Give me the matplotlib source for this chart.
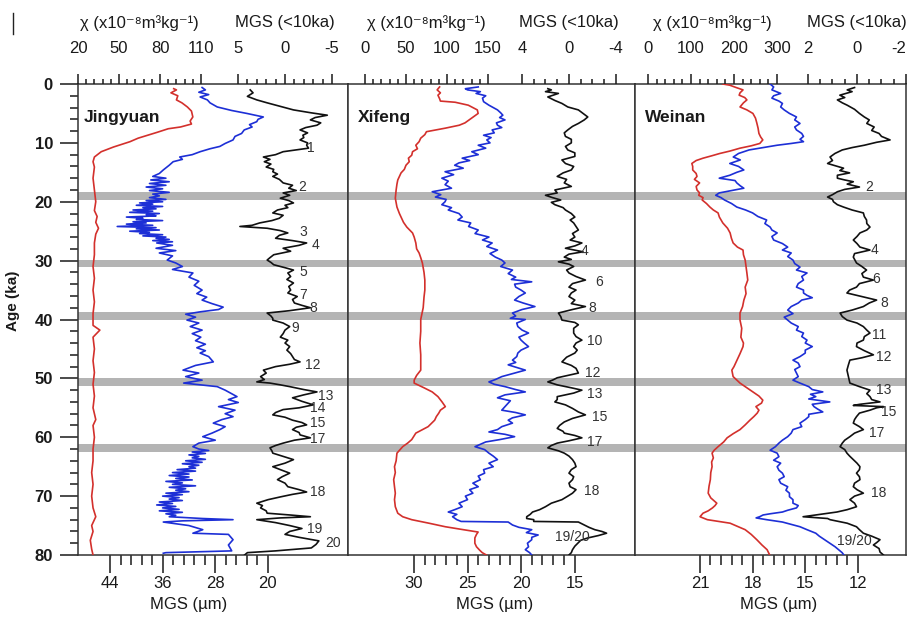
import matplotlib
matplotlib.use('Agg')
import matplotlib.pyplot as plt
from matplotlib.ticker import FixedLocator, MultipleLocator
from matplotlib.lines import Line2D

plt.rcParams['font.family'] = ['Liberation Sans', 'DejaVu Sans']
plt.rcParams['axes.unicode_minus'] = False

# ---- data (age in ka) ----
# Jingyuan
jy_chi_age = [0.8, 1.0, 1.5, 2.0, 2.7, 3.2, 3.9, 4.6, 5.6, 6.3, 6.8, 7.3, 7.6, 8.2, 9.2, 9.8, 10.7, 11.5, 12.4, 13.2,
              14.1, 16, 18, 20, 21.5, 22.5, 23.5, 24.5, 25.5, 27, 29, 31, 33, 35, 37, 39, 41, 41.8, 43, 45, 47, 49,
              51, 53, 55, 57, 58, 60, 62, 64, 66, 68, 70, 72, 73.5, 75, 76, 77.5, 79, 80]
jy_chi = [90, 92, 88, 93, 92, 96, 100, 103, 104, 102, 103, 95, 86, 78, 64, 58, 46, 37, 32, 31,
          32, 31, 32, 33, 32, 34, 33, 35, 33, 32, 32, 31, 32, 31, 32, 31, 31, 36, 31, 32, 31, 32,
          31, 32, 31, 33, 31, 32, 31, 31, 30, 31, 30, 31, 33, 30, 31, 29, 30, 31]

jy_mgs_age = [0.6, 1.0, 1.4, 1.8, 2.2, 2.7, 3.2, 3.9, 4.5, 5.0, 5.6, 6.0, 6.4, 6.9, 7.3, 7.8, 8.4, 8.9, 9.5, 10.1,
              10.6, 11.0, 11.5, 12.0, 12.4, 12.8, 13.2, 13.8, 14.6, 15.2, 15.7, 16.0, 16.3, 16.6, 16.9, 17.2, 17.5,
              17.8, 18.1, 18.4, 18.7, 19.0, 19.3, 19.6, 19.8, 20.0, 20.2, 20.4, 20.6, 20.8, 21.0, 21.2, 21.4, 21.6,
              21.8, 22.0, 22.2, 22.4, 22.6, 22.8, 23.0, 23.2, 23.4, 23.6, 23.8, 24.0, 24.2, 24.4, 24.6, 24.8, 25.0,
              25.2, 25.4, 25.6, 25.8, 26.0, 26.2, 26.4, 26.6, 26.8, 27.0, 27.4, 27.9, 28.3, 28.7, 29.2, 29.9, 30.4,
              31.0, 31.5, 32.1, 32.8, 33.5, 34.2, 35.0, 35.6, 36.2, 36.7, 37.3, 37.9, 38.3, 38.7, 39.1, 39.6, 40.1,
              40.6, 41.2, 41.8, 42.4, 43.0, 43.6, 44.2, 44.8, 45.3, 45.7, 46.3, 47.2, 47.8, 48.6, 49.1, 49.7, 50.3,
              50.8, 51.4, 52.0, 52.6, 53.1, 53.6, 54.1, 54.8, 55.4, 56.0, 56.5, 57.0, 57.6, 58.2, 58.7, 59.3, 59.9,
              60.5, 61.0, 61.6, 62.0, 62.25, 62.5, 62.75, 63.0, 63.25, 63.5, 63.75, 64.0, 64.25, 64.5, 64.75, 65.0,
              65.25, 65.5, 65.75, 66.0, 66.25, 66.5, 66.75, 67.0, 67.25, 67.5, 67.75, 68.0, 68.25, 68.5, 68.75,
              69.0, 69.25, 69.5, 69.75, 70.0, 70.25, 70.5, 70.75, 71.0, 71.25, 71.5, 71.75, 72.0, 72.25, 72.5,
              72.75, 73.0, 73.25, 73.5, 73.8, 74.0, 74.2, 74.4, 75.0, 75.7, 76.3, 76.5, 77.4, 78.3, 79.3, 79.6,
              79.7]
jy_mgs = [30.0, 29.5, 30.5, 29.0, 30.3, 29.2, 28.8, 27.7, 25.5, 23.2, 20.7, 21.5, 21.7, 22.8, 22.4, 23.6, 24.0, 25.0,
          25.3, 26.5, 27.3, 28.8, 30.3, 31.5, 33.4, 33.0, 34.4, 35.0, 35.9, 36.5, 37.5, 35.5, 37.8, 35.0, 38.0, 35.5,
          38.5, 36.0, 38.0, 35.0, 37.5, 36.5, 38.0, 35.5, 38.5, 36.0, 39.5, 37.5, 40.0, 36.0, 39.0, 37.0, 40.5, 37.5,
          41.0, 36.5, 38.5, 37.0, 41.5, 39.0, 40.0, 36.0, 40.5, 38.5, 41.5, 37.5, 42.9, 37.0, 40.0, 36.5, 41.0, 38.0,
          39.5, 36.0, 39.0, 35.5, 37.0, 35.0, 37.5, 34.5, 36.9, 34.5, 37.0, 34.0, 36.5, 34.5, 35.3, 34.0, 33.0, 34.5,
          31.4, 32.0, 30.5, 31.2, 30.0, 30.8, 29.3, 30.0, 28.5, 26.8, 27.5, 30.3, 32.5, 31.0, 32.3, 30.5, 31.8, 30.0,
          31.5, 30.2, 31.0, 29.5, 30.8, 29.5, 30.3, 29.0, 28.3, 31.0, 32.9, 30.5, 32.5, 30.0, 32.8, 27.7, 26.5, 25.5,
          24.7, 26.0, 24.5, 27.5, 25.0, 26.5, 25.3, 27.0, 28.3, 26.5, 27.3, 28.5, 29.9, 28.0, 30.5, 31.4, 30.5, 29.0,
          31.5, 29.5, 32.0, 30.5, 31.5, 29.5, 32.5, 30.0, 33.0, 30.5, 32.0, 31.0, 33.8, 31.0, 34.5, 32.0, 35.0, 32.0,
          34.0, 31.5, 35.5, 33.0, 34.5, 31.0, 35.0, 32.5, 34.0, 32.0, 35.5, 33.0, 36.0, 33.5, 35.0, 33.0, 36.5, 34.5,
          36.9, 34.0, 36.0, 33.5, 36.5, 33.0, 35.5, 34.0, 35.0, 30.0, 25.3, 33.0, 35.9, 32.0, 29.9, 31.4, 26.0, 25.3,
          26.0, 25.5, 35.5, 35.9]

jy_m10_age = [1.0, 1.5, 2.1, 2.7, 3.2, 3.8, 4.4, 4.9, 5.3, 5.7, 6.1, 6.6, 7.0, 7.4, 7.8, 8.3, 8.7, 9.1, 9.5, 10.0,
              10.4, 10.9, 11.5, 12.0, 12.4, 12.8, 13.2, 13.6, 14.1, 14.5, 14.9, 15.3, 15.7, 16.2, 16.8, 17.2, 17.7,
              18.1, 18.5, 18.9, 19.4, 19.8, 20.2, 20.6, 21.0, 21.4, 21.9, 22.3, 22.8, 23.2, 23.6, 24.0, 24.2, 24.5,
              24.9, 25.3, 25.7, 26.2, 26.6, 27.0, 27.4, 27.9, 28.4, 29.0, 29.5, 29.9, 30.3, 30.7, 31.2, 31.6, 32.1,
              32.7, 33.2, 33.8, 34.4, 35.0, 35.5, 36.1, 36.6, 37.2, 37.6, 38.0, 38.5, 38.9, 39.4, 39.8, 40.1, 40.6,
              41.2, 41.8, 42.4, 43.0, 43.5, 44.0, 44.6, 45.2, 45.8, 46.3, 46.8, 47.2, 47.6, 48.0, 48.6, 49.1, 49.7,
              50.2, 50.6, 50.8, 51.1, 51.4, 51.9, 52.3, 52.8, 53.3, 53.9, 54.5, 55.0, 55.3, 55.8, 56.2, 56.6, 57.1,
              57.5, 57.9, 58.3, 58.7, 59.2, 59.6, 60.1, 60.5, 61.0, 61.4, 61.8, 62.3, 62.7, 63.2, 63.8, 64.4, 65.0,
              65.5, 66.1, 66.7, 67.2, 67.8, 68.4, 68.9, 69.3, 69.7, 70.1, 70.6, 71.2, 71.6, 72.0, 72.5, 72.9, 73.2,
              73.5, 73.7, 74.0, 74.5, 75.0, 75.5, 76.0, 76.5, 77.0, 77.6, 78.2, 78.8, 79.3, 79.6, 80.0]
jy_m10 = [3.7, 3.4, 4.0, 3.0, 1.9, 0.5, -0.9, -2.8, -4.5, -3.2, -2.7, -3.8, -3.4, -2.2, -1.6, -2.4, -1.9, -2.0, -1.6,
          -2.4, -2.3, -2.5, 0.2, 1.0, 2.3, 1.6, 2.2, 1.5, 2.0, 1.2, 1.3, 0.8, 1.3, 0.6, 0.2, -0.8, -0.4, -1.2, 0.2,
          -0.5, 0.5, -0.4, -0.9, 0.0, -0.3, 0.8, 1.3, 0.2, 0.6, 1.4, 2.7, 3.5, 4.8, 1.9, 0.5, -0.3, 0.6, 1.0, -0.8,
          -2.3, -1.5, 0.2, -0.6, 1.2, 1.6, 1.9, 1.5, 1.2, 0.0, -0.9, -0.3, -0.6, -0.2, -0.9, -0.4, -0.6, -0.3, -1.3,
          -0.8, -1.0, -1.8, -2.7, -0.5, 1.9, 1.5, 1.3, 1.3, 0.2, -0.5, 0.0, 0.2, 0.5, -0.3, 0.0, -0.5, -0.2, -0.6,
          -0.8, -1.0, -1.6, -0.5, 1.0, 2.3, 2.0, 2.6, 2.2, 3.0, 1.6, 0.5, -0.5, -2.0, -3.4, -2.0, -0.8, -1.8, -3.0,
          -1.5, 0.2, 1.0, 1.3, 0.0, -0.8, -1.8, -2.3, -1.2, -0.8, -1.5, -1.6, -2.7, -1.0, 0.2, 1.0, 1.6, 1.4, 1.3,
          0.3, -0.9, 0.0, 1.3, 0.5, -0.5, 0.3, 0.8, 0.0, -0.3, -1.5, -2.3, -0.8, 0.4, 1.8, 3.0, 2.4, 2.6, 2.0, 1.9,
          -0.5, -2.7, 0.5, 3.0, 1.0, -0.5, -1.8, -0.5, 0.0, -1.5, -3.6, -3.3, -2.8, 1.0, 4.0, 4.3]

# Xifeng
xf_chi_age = [0.5, 1.0, 1.5, 1.9, 2.5, 2.9, 3.1, 3.6, 4.4, 5.0, 5.5, 5.8, 6.6, 7.0, 7.5, 8.1, 8.6, 9.2, 9.8, 10.4,
              11.0, 11.5, 12.1, 12.6, 13.2, 13.8, 14.5, 15.1, 15.7, 16.3, 17, 18, 19.4, 20.9, 22, 22.6, 23.5, 24.3,
              25.3, 26, 27, 28, 28.7, 29.5, 30.4, 32, 33.3, 35, 36.2, 38, 40, 42, 44, 46, 48.6, 49.5, 50.3, 50.8,
              51.6, 52.3, 53.1, 54, 54.8, 55.4, 55.9, 56.5, 57.1, 58.2, 59.3, 60.4, 61, 61.6, 62.7, 64, 65, 66, 67.2,
              68.4, 69.5, 70.6, 71.8, 72.9, 73.5, 74, 74.6, 75.2, 75.7, 76.1, 76.5, 77.1, 78, 78.6, 79.2, 79.6, 80]
xf_chi = [91, 88, 92, 89, 91, 92, 110, 126, 137, 138, 133, 130, 122, 115, 98, 75, 73, 68, 66, 62,
          64, 58, 57, 53, 54, 50, 48, 44, 42, 40, 39, 38, 37, 39, 42, 44, 47, 51,
          58, 60, 62, 63, 66, 68, 70, 72, 73, 73, 72, 71, 68, 68, 67, 68, 68, 63, 60, 60,
          72, 82, 89, 94, 98, 92, 90, 87, 85, 77, 62, 57, 52, 46, 39, 38, 36, 37, 35,
          36, 37, 36, 37, 40, 46, 57, 78, 98, 120, 138, 136, 134, 134, 136, 140, 143, 148]

xf_mgs_age = [0.5, 0.8, 1.0, 1.3, 1.6, 2.0, 2.4, 3.0, 3.6, 4.0, 4.4, 4.9, 5.3, 5.7, 6.1, 6.6, 7.0, 7.4, 7.8, 8.3,
              8.7, 9.1, 9.5, 10.0, 10.4, 10.9, 11.5, 12.0, 12.6, 13.0, 13.4, 13.8, 14.3, 14.9, 15.4, 16.0, 16.5,
              17.1, 17.7, 18.3, 18.8, 19.2, 19.6, 20.0, 20.5, 21.0, 21.4, 22.0, 22.6, 23.1, 23.6, 24.2, 24.8, 25.4,
              26.0, 26.5, 27.0, 27.6, 28.2, 28.8, 29.4, 29.9, 30.4, 31.0, 31.6, 32.2, 32.8, 33.2, 33.6, 34.0, 34.5,
              35.0, 35.5, 36.1, 36.7, 37.2, 37.8, 38.3, 38.9, 39.4, 39.8, 40.0, 40.6, 41.2, 41.8, 42.3, 43.0, 43.5,
              44.0, 44.6, 45.2, 45.7, 46.3, 46.9, 47.3, 47.7, 48.2, 48.6, 49.2, 49.7, 50.2, 50.6, 51.0, 51.4, 51.9,
              52.3, 52.8, 53.3, 53.8, 54.2, 54.8, 55.4, 55.8, 56.2, 56.7, 57.1, 57.6, 58.2, 58.7, 59.1, 59.5, 59.9,
              60.4, 60.8, 61.2, 61.6, 62.1, 62.7, 63.2, 63.8, 64.4, 65.0, 65.5, 66.1, 66.6, 67.2, 67.8, 68.4, 68.9,
              69.5, 70.0, 70.6, 71.2, 71.8, 72.3, 72.7, 73.1, 73.5, 74.0, 74.3, 74.4, 74.9, 75.3, 75.7, 76.2, 76.6,
              77.0, 77.4, 78.0, 78.6, 79.1, 79.6, 80.0]
xf_mgs = [24.0, 25.2, 25.0, 23.8, 24.2, 23.3, 23.6, 23.5, 23.0, 22.6, 22.2, 21.9, 21.7, 22.0, 21.5, 22.3, 22.2, 21.8,
          22.7, 22.5, 23.5, 22.8, 23.2, 22.9, 24.0, 23.3, 24.6, 24.0, 25.5, 24.8, 25.8, 26.2, 25.4, 27.1, 26.3, 27.4,
          26.8, 27.1, 26.5, 28.3, 27.5, 28.0, 27.0, 27.1, 27.4, 26.5, 26.8, 25.8, 25.5, 25.9, 24.7, 24.9, 24.0, 24.3,
          23.0, 23.6, 22.7, 23.2, 22.2, 22.9, 22.4, 21.8, 21.5, 21.9, 20.8, 21.2, 20.5, 20.9, 19.0, 20.6, 20.5, 20.0,
          19.6, 20.2, 20.6, 19.8, 18.7, 19.9, 20.8, 20.5, 21.0, 19.6, 20.4, 20.3, 19.9, 19.3, 20.2, 20.0, 19.7, 19.3,
          20.0, 20.3, 20.4, 20.8, 20.5, 21.2, 20.3, 19.6, 20.8, 21.8, 22.4, 23.0, 22.5, 21.5, 20.5, 19.6, 21.5, 22.2,
          21.0, 21.2, 21.5, 21.8, 20.5, 19.6, 20.8, 21.2, 20.8, 21.8, 22.2, 23.0, 21.5, 20.6, 22.0, 23.3, 23.8, 24.3,
          23.4, 23.0, 22.6, 22.2, 23.0, 22.6, 23.5, 23.4, 24.0, 23.8, 24.5, 24.0, 24.8, 24.5, 25.2, 25.0, 25.8, 25.5,
          26.2, 26.8, 26.0, 26.4, 26.0, 25.6, 21.2, 20.8, 20.2, 19.0, 19.5, 18.4, 19.0, 19.0, 19.4, 19.3, 19.6, 19.2,
          19.0]

xf_m10_age = [0.8, 1.0, 1.3, 1.6, 2.0, 2.2, 2.8, 3.3, 3.9, 4.4, 5.0, 5.6, 6.1, 6.7, 7.2, 7.8, 8.3, 8.9, 9.4, 10.0,
              10.6, 11.2, 11.7, 12.3, 12.9, 13.5, 14.0, 14.6, 15.1, 15.7, 16.2, 16.8, 17.4, 18.0, 18.5, 18.9, 19.3,
              19.7, 20.1, 20.5, 21.0, 21.4, 22.0, 22.6, 23.1, 23.6, 24.2, 24.8, 25.4, 26.0, 26.5, 27.0, 27.5, 27.9,
              28.5, 28.9, 29.4, 29.8, 30.2, 30.6, 31.0, 31.6, 32.1, 32.7, 33.3, 33.9, 34.5, 35.0, 35.5, 36.1, 36.7,
              37.3, 37.8, 38.3, 38.9, 39.5, 40.1, 40.5, 40.9, 41.5, 42.3, 42.9, 43.5, 44.0, 44.6, 45.2, 45.7, 46.4,
              47.2, 47.8, 48.3, 49.1, 49.5, 49.9, 50.3, 50.6, 51.1, 51.6, 52.0, 52.5, 53.1, 53.6, 54.0, 54.5, 55.1,
              55.7, 56.2, 56.8, 57.4, 58.0, 58.5, 59.0, 59.3, 59.7, 60.1, 60.6, 61.0, 61.4, 61.8, 62.3, 62.7, 63.2,
              63.8, 64.4, 65.0, 65.5, 66.1, 66.7, 67.2, 67.8, 68.4, 68.9, 69.5, 70.0, 70.6, 71.2, 71.8, 72.3, 72.7,
              73.1, 73.5, 73.8, 74.0, 74.3, 74.4, 74.9, 75.3, 75.7, 76.0, 76.3, 76.7, 77.1, 77.5, 77.9, 78.5, 79.1,
              79.6, 80.0]
xf_m10 = [1.8, 1.5, 2.0, 0.9, 1.5, 1.8, 1.2, 0.6, 0.1, -0.8, -1.2, -1.6, -1.3, -0.8, -0.3, 0.1, 0.4, 0.3, -0.2, -0.2,
          0.3, 0.1, -0.5, -0.5, 0.6, 0.3, -0.4, -0.2, 0.5, 1.0, 0.2, 0.4, -0.2, 1.2, 1.0, 2.0, 1.4, 0.7, 1.5, 1.2,
          0.5, 0.3, -0.2, -0.5, -0.1, -0.4, -0.6, -0.8, -0.3, -0.5, -0.1, -1.1, -0.5, 0.3, -1.2, 0.0, 0.4, -0.2, 0.9,
          0.0, -0.4, 0.2, 0.0, -0.6, -1.4, -0.3, 0.0, -0.6, -0.2, 0.0, -0.5, -0.2, -1.4, -0.3, 0.9, 0.7, 0.6, -0.5,
          -0.8, -0.4, -0.4, -0.6, -1.1, -0.6, -0.4, -0.7, -0.5, 0.2, 0.6, -0.2, -0.6, -0.8, 0.1, 1.0, 1.4, 1.8, 1.0,
          -0.2, -1.1, -0.4, 1.0, 1.0, 1.2, 0.3, -0.3, -0.8, -1.4, -0.3, 0.4, 0.8, 1.0, 0.5, 0.4, -0.5, -1.1, 0.0,
          1.0, 1.5, 1.8, 0.9, 0.4, 0.0, -0.3, -0.5, -0.6, -0.2, 0.0, -0.4, -0.3, 0.0, -0.1, -0.6, -0.3, 0.1, 0.6,
          1.5, 2.0, 2.5, 3.1, 3.3, 3.6, 3.6, 3.0, 3.0, -0.8, -1.3, -1.7, -2.2, -2.8, -3.2, -2.5, -1.6, -1.0, -0.8,
          -0.5, -0.3, -0.2, 0.0]

# Weinan
wn_chi_age = [0.0, 0.2, 0.6, 1.0, 1.5, 1.9, 2.3, 2.7, 3.2, 3.9, 4.4, 5.0, 5.8, 6.6, 7.5, 8.4, 9.0, 9.5, 10.1, 10.5,
              10.9, 11.4, 11.8, 12.2, 12.6, 13.0, 13.5, 14.0, 14.6, 15.2, 15.7, 16.2, 16.8, 17.4, 18.0, 18.5, 18.9,
              19.3, 19.7, 20.3, 20.9, 21.4, 21.9, 22.6, 23.6, 24.5, 25.3, 26.2, 27.0, 27.7, 28.2, 29.0, 29.9, 31.0,
              32.1, 33.3, 34.5, 35.6, 36.7, 37.8, 38.9, 40.1, 41.5, 43.0, 44.0, 44.6, 45.8, 46.9, 48.0, 48.6, 49.7,
              50.8, 51.5, 52.3, 53.0, 53.7, 54.2, 54.8, 55.4, 55.9, 56.5, 57.1, 57.9, 58.7, 59.4, 60.1, 60.8, 61.6,
              62.2, 62.7, 63.5, 64.2, 65.0, 66.0, 67.2, 68.3, 69.5, 70.3, 71.2, 71.6, 72.0, 72.5, 72.9, 73.5, 74.0,
              74.6, 75.2, 75.7, 76.5, 77.4, 78.3, 79.1, 80.0]
wn_chi = [174, 190, 205, 221, 214, 212, 225, 230, 222, 214, 230, 244, 250, 253, 256, 258, 262, 267, 260, 240,
          214, 190, 167, 148, 128, 112, 102, 104, 104, 112, 114, 108, 120, 112, 114, 120, 118,
          128, 126, 136, 144, 152, 163, 166, 174, 185, 191, 194, 198, 208, 221, 222, 226, 228,
          230, 232, 226, 228, 223, 220, 214, 214, 218, 216, 222, 221, 214, 207, 200, 195, 198,
          214, 228, 244, 258, 267, 264, 251, 258, 254, 246, 237, 226, 214, 198, 184, 176, 163,
          154, 149, 152, 148, 149, 146, 145, 142, 140, 146, 160, 156, 150, 140, 128, 121, 138,
          191, 210, 226, 240, 253, 265, 277, 283]

wn_mgs_age = [0.0, 0.5, 1.0, 1.6, 2.0, 2.4, 2.9, 3.3, 3.9, 4.4, 5.0, 5.6, 6.1, 6.7, 7.3, 7.8, 8.4, 8.9, 9.4, 9.8,
              10.1, 10.4, 10.8, 11.2, 11.8, 12.4, 12.9, 13.5, 14.0, 14.6, 15.0, 15.5, 16.0, 16.4, 16.8, 17.3, 17.7,
              18.1, 18.5, 18.9, 19.3, 19.7, 20.3, 20.9, 21.4, 21.9, 22.5, 23.1, 23.7, 24.3, 24.8, 25.3, 25.9, 26.5,
              27.1, 27.7, 28.2, 28.7, 29.3, 29.9, 30.5, 31.1, 31.6, 32.1, 32.7, 33.3, 33.9, 34.5, 35.0, 35.5, 35.9,
              36.3, 36.7, 37.2, 37.8, 38.4, 39.0, 39.6, 40.1, 40.6, 41.2, 41.8, 42.3, 42.9, 43.5, 44.0, 44.6, 45.2,
              45.7, 46.3, 46.9, 47.4, 48.0, 48.5, 49.1, 49.7, 50.3, 50.8, 51.4, 51.9, 52.3, 52.7, 53.1, 53.5, 54.0,
              54.4, 54.8, 55.2, 55.7, 56.1, 56.5, 57.0, 57.6, 58.2, 58.7, 59.3, 59.9, 60.5, 61.0, 61.6, 62.2, 62.7,
              63.3, 63.9, 64.4, 65.0, 65.6, 66.1, 66.7, 67.2, 67.8, 68.4, 69.0, 69.5, 70.1, 70.6, 71.2, 71.6, 72.0,
              72.4, 72.7, 73.0, 73.2, 73.5, 73.7, 74.0, 74.4, 74.8, 75.2, 75.7, 76.3, 76.8, 77.4, 78.0, 78.6, 79.1,
              79.6, 80.0]
wn_mgs = [17.0, 16.8, 16.9, 16.4, 16.8, 16.9, 16.5, 16.3, 16.4, 16.2, 15.9, 15.5, 15.6, 15.3, 15.6, 15.5, 15.2, 15.1,
          15.3, 15.1, 15.8, 16.6, 17.4, 18.2, 18.8, 19.1, 18.7, 19.3, 18.8, 18.5, 18.9, 19.3, 19.9, 19.0, 18.9, 18.7,
          18.5, 19.2, 19.9, 20.1, 19.8, 19.6, 19.2, 18.9, 18.4, 18.0, 17.7, 17.2, 17.3, 17.0, 16.9, 16.6, 16.9, 16.8,
          16.3, 16.0, 16.3, 15.8, 16.0, 15.7, 15.6, 15.3, 15.5, 14.9, 15.2, 15.1, 15.4, 15.5, 15.1, 15.1, 14.9, 14.6,
          15.2, 15.4, 15.8, 16.0, 15.7, 16.2, 16.0, 15.8, 15.4, 15.5, 15.1, 15.2, 14.9, 15.0, 14.6, 15.0, 15.0, 15.3,
          15.7, 15.4, 15.3, 15.6, 15.5, 15.4, 15.7, 15.3, 14.8, 14.6, 14.0, 14.7, 14.4, 14.8, 13.6, 14.6, 14.5, 14.3,
          14.0, 14.8, 14.8, 15.0, 15.3, 15.2, 15.7, 15.8, 16.0, 16.3, 16.5, 16.7, 17.0, 16.6, 16.5, 16.8, 16.4, 16.6,
          16.5, 16.3, 16.2, 16.5, 16.4, 16.0, 16.1, 15.9, 15.9, 15.7, 15.7, 15.4, 15.5, 16.0, 16.3, 17.0, 17.4, 17.6,
          17.8, 17.2, 16.3, 15.8, 15.3, 14.9, 14.4, 14.2, 13.9, 13.6, 13.3, 13.1, 12.9, 12.8]

wn_m10_age = [0.6, 1.0, 1.3, 1.9, 2.3, 2.7, 3.2, 3.6, 4.3, 5.0, 5.6, 6.1, 6.7, 7.3, 7.9, 8.4, 8.9, 9.5, 9.9, 10.4,
              10.8, 11.2, 11.8, 12.4, 13.0, 13.5, 14.0, 14.3, 14.7, 15.1, 15.5, 16.0, 16.3, 16.6, 17.0, 17.5, 17.9,
              18.3, 18.8, 19.2, 19.6, 20.0, 20.5, 20.9, 21.4, 21.9, 22.5, 23.1, 23.7, 24.3, 24.8, 25.3, 25.9, 26.5,
              27.1, 27.7, 28.2, 28.8, 29.4, 30.4, 31.0, 31.6, 32.2, 32.8, 33.3, 33.9, 34.5, 35.0, 35.5, 36.1, 36.7,
              37.2, 37.8, 38.4, 38.9, 39.5, 40.1, 40.6, 41.2, 41.8, 42.3, 42.9, 43.5, 44.0, 44.6, 45.3, 46.0, 46.5,
              46.9, 47.7, 48.6, 49.7, 50.8, 51.4, 52.0, 52.6, 53.1, 53.6, 54.0, 54.4, 54.6, 54.8, 55.0, 55.4, 55.9,
              56.5, 57.0, 57.6, 58.2, 58.7, 59.3, 59.9, 60.5, 61.0, 61.6, 62.1, 62.7, 63.2, 63.8, 64.4, 65.0, 65.5,
              66.1, 66.7, 67.2, 67.8, 68.4, 68.9, 69.5, 70.0, 70.6, 71.2, 71.8, 72.3, 72.7, 73.1, 73.5, 73.8, 74.0,
              74.6, 75.2, 75.7, 76.3, 76.8, 77.4, 77.9, 78.3, 78.9, 79.5, 80.0]
wn_m10 = [0.1, 0.4, 0.2, 0.7, 0.5, 0.8, 0.6, 0.4, 0.1, -0.1, -0.3, -0.5, -0.4, -0.7, -0.6, -0.9, -1.0, -1.35, -0.8,
          -0.3, 0.2, 0.6, 0.9, 1.1, 1.0, 1.2, 0.8, 0.55, 0.7, 0.3, 0.8, 0.8, 0.5, 0.15, 0.4, -0.1, 0.5, 0.8, 1.0,
          1.2, 1.0, 0.96, 0.8, 0.55, 0.2, -0.26, -0.3, -0.39, -0.4, -0.53, -0.4, -0.12, 0.0, 0.15, 0.0, -0.12,
          -0.53, 0.1, 0.15, 0.02, -0.2, -0.39, -0.2, -0.26, -0.67, -0.1, 0.02, 0.3, 0.41, -0.2, -0.8, -0.5, -0.26,
          0.2, 0.69, 0.6, 0.41, 0.0, -0.26, -0.4, -0.53, -0.3, -0.26, 0.0, 0.02, -0.3, -0.67, -0.2, 0.29, 0.35,
          0.41, 0.35, 0.29, -0.1, -0.53, -0.4, -0.53, -0.6, -0.94, -0.12, 0.15, -1.08, -0.8, -0.53, -0.1, 0.02,
          0.1, 0.15, -0.1, -0.26, 0.1, 0.29, 0.5, 0.6, 0.69, 0.5, 0.41, 0.3, 0.15, 0.0, -0.12, -0.1, 0.02, -0.1,
          -0.12, 0.1, 0.15, 0.0, -0.26, 0.1, 0.29, 0.1, 0.02, 0.4, 0.82, 1.5, 2.2, 1.2, 1.1, 0.4, 0.02, -0.1,
          -0.26, -0.6, -0.94, -0.8, -0.67, -0.9, -0.94, -1.08]

# event numbers next to the MGS (<10ka) curves: (text, MGS<10ka value, age)
jy_events = [('1', -2.7, 10.9), ('2', -1.8, 17.5), ('3', -1.9, 25.1), ('4', -3.2, 27.3), ('5', -1.9, 31.9),
             ('7', -1.9, 35.8), ('8', -3.0, 38.0), ('9', -1.1, 41.5), ('12', -3.0, 47.7), ('13', -4.3, 53.0),
             ('14', -3.5, 55.0), ('15', -3.5, 57.6), ('17', -3.5, 60.3), ('18', -3.5, 69.3), ('19', -3.2, 75.6),
             ('20', -5.1, 78.0)]
xf_events = [('4', -1.3, 28.4), ('6', -2.6, 33.6), ('8', -2.0, 38.0), ('10', -2.2, 43.7), ('12', -2.0, 49.1),
             ('13', -2.2, 52.7), ('15', -2.6, 56.5), ('17', -2.2, 60.8), ('18', -1.9, 69.1), ('19/20', -0.3, 76.9)]
wn_events = [('2', -0.5, 17.5), ('4', -0.7, 28.2), ('6', -0.8, 33.1), ('8', -1.1, 37.2), ('11', -0.9, 42.6),
             ('12', -1.1, 46.4), ('13', -1.1, 52.0), ('15', -1.3, 55.7), ('17', -0.8, 59.3), ('18', -0.9, 69.4),
             ('19/20', 0.1, 77.6)]

# grey bands (centre age)
band_ages = [19.0, 30.5, 39.4, 50.6, 61.8]
band_half = 0.65

sites = ['Jingyuan', 'Xifeng', 'Weinan']

RED = '#d3302c'
BLUE = '#1d2fd6'
BLACK = '#111111'
TXT = '#1a1a1a'

fig = plt.figure(figsize=(9.10, 6.26), dpi=100)

# pixel layout of the three panels
bottom = 1 - 555 / 626
height = (555 - 84) / 626
panels = [
    dict(l=78, w=270, g_lim=(48.86, 7.83), c_lim=(20, 217.5), m_lim=(22.02, -6.70),
         g_ticks=[44, 36, 28, 20], g_minor=1.6, c_ticks=[20, 50, 80, 110], c_minor=6,
         m_ticks=[5, 0, -5], m_minor=1),
    dict(l=348, w=287, g_lim=(36.17, 9.35), c_lim=(-20.7, 329.3), m_lim=(18.81, -5.62),
         g_ticks=[30, 25, 20, 15], g_minor=1, c_ticks=[0, 50, 100, 150], c_minor=10,
         m_ticks=[4, 0, -4], m_minor=1),
    dict(l=635, w=271, g_lim=(24.70, 9.26), c_lim=(-30.2, 600), m_lim=(9.06, -2.0),
         g_ticks=[21, 18, 15, 12], g_minor=0.6, c_ticks=[0, 100, 200, 300], c_minor=20,
         m_ticks=[2, 0, -2], m_minor=0.5),
]
series = [
    (jy_chi_age, jy_chi, jy_mgs_age, jy_mgs, jy_m10_age, jy_m10, jy_events),
    (xf_chi_age, xf_chi, xf_mgs_age, xf_mgs, xf_m10_age, xf_m10, xf_events),
    (wn_chi_age, wn_chi, wn_mgs_age, wn_mgs, wn_m10_age, wn_m10, wn_events),
]

first_ax = None
for i, (p, s) in enumerate(zip(panels, series)):
    chi_age, chi, mgs_age, mgs, m_age, m10, events = s
    ax = fig.add_axes([p['l'] / 910, bottom, p['w'] / 910, height], sharey=first_ax)
    if first_ax is None:
        first_ax = ax
    ax.set_xlim(*p['g_lim'])
    ax.set_ylim(80, 0)

    for a in band_ages:
        ax.axhspan(a - band_half, a + band_half, color='#b4b4b4', lw=0, zorder=0)

    # bottom axis: MGS (um)
    g0, g1 = p['g_ticks'][0], p['g_ticks'][-1]
    n = int(round((g0 - g1) / p['g_minor']))
    ax.xaxis.set_major_locator(FixedLocator(p['g_ticks']))
    ax.xaxis.set_minor_locator(FixedLocator([g0 - k * p['g_minor'] for k in range(n + 1)]))
    ax.tick_params(axis='x', which='major', direction='out', length=13, width=1.1, top=False,
                   labelsize=12, pad=2, colors=TXT)
    ax.tick_params(axis='x', which='minor', direction='out', length=7, width=1.1, top=False, colors=TXT)
    ax.annotate('MGS (µm)', xy=((g0 + g1) / 2, 0), xycoords=('data', 'axes fraction'),
                xytext=(0, -36), textcoords='offset points', ha='center', va='center', fontsize=12, color=TXT)

    if i == 0:
        ax.yaxis.set_major_locator(MultipleLocator(10))
        ax.yaxis.set_minor_locator(MultipleLocator(2))
        ax.tick_params(axis='y', which='major', direction='out', length=13, width=1.1, labelsize=12,
                       pad=5, colors=TXT)
        ax.tick_params(axis='y', which='minor', direction='out', length=6, width=1.1, colors=TXT)
        for t in ax.get_yticklabels():
            t.set_fontweight('bold')
        ax.set_ylabel('Age (ka)', fontsize=11, fontweight='bold', color=TXT)
        ax.yaxis.set_label_coords(-0.215, 0.54)
    else:
        ax.tick_params(axis='y', which='both', left=False, labelleft=False)

    for sp in ax.spines.values():
        sp.set_linewidth(1.1)
        sp.set_color('#333333')

    # top axis 1: chi
    axc = ax.twiny()
    axc.set_xlim(*p['c_lim'])
    c0, c1 = p['c_ticks'][0], p['c_ticks'][-1]
    axc.xaxis.set_major_locator(FixedLocator(p['c_ticks']))
    nc = int(round((c1 - c0) / p['c_minor']))
    axc.xaxis.set_minor_locator(FixedLocator([c0 + k * p['c_minor'] for k in range(nc + 1)]))
    axc.tick_params(axis='x', which='major', direction='out', length=7, width=1.1, labelsize=12,
                    pad=13, colors=TXT)
    axc.tick_params(axis='x', which='minor', direction='out', length=3.5, width=1.1, colors=TXT)
    for sp in axc.spines.values():
        sp.set_visible(False)
    axc.annotate('χ (x10⁻⁸m³kg⁻¹)', xy=((c0 + c1) / 2, 1), xycoords=('data', 'axes fraction'),
                 xytext=(0, 44), textcoords='offset points', ha='center', va='center', fontsize=12, color=TXT)

    # top axis 2: MGS (<10ka)
    axm = ax.twiny()
    axm.set_xlim(*p['m_lim'])
    m0, m1 = p['m_ticks'][0], p['m_ticks'][-1]
    axm.xaxis.set_major_locator(FixedLocator(p['m_ticks']))
    nm = int(round((m0 - m1) / p['m_minor']))
    axm.xaxis.set_minor_locator(FixedLocator([m0 - k * p['m_minor'] for k in range(nm + 1)]))
    axm.tick_params(axis='x', which='major', direction='out', length=7, width=1.1, labelsize=12,
                    pad=13, colors=TXT)
    axm.tick_params(axis='x', which='minor', direction='out', length=3.5, width=1.1, colors=TXT)
    for sp in axm.spines.values():
        sp.set_visible(False)
    if i == 2:
        # last label sits on the figure edge
        axm.get_xticklabels()[-1].set_horizontalalignment('right')
    axm.annotate('MGS (<10ka)', xy=((m0 + m1) / 2, 1), xycoords=('data', 'axes fraction'),
                 xytext=(0, 44), textcoords='offset points', ha='center', va='center', fontsize=12, color=TXT)

    # curves
    axc.plot(chi, chi_age, color=RED, lw=1.2, zorder=3)
    ax.plot(mgs, mgs_age, color=BLUE, lw=1.2, zorder=3)
    axm.plot(m10, m_age, color=BLACK, lw=1.2, zorder=3)

    for txt, xv, yv in events:
        axm.text(xv, yv, txt, fontsize=10, color='#333333', ha='center', va='center')

    ax.text(0.02 if i == 0 else 0.035, 0.928, sites[i], transform=ax.transAxes, fontsize=12.5,
            fontweight='bold', color=TXT, ha='left', va='center')

# small stray line at the top-left corner of the original crop
fig.add_artist(Line2D([13 / 910, 13 / 910], [1 - 13 / 626, 1 - 34 / 626], color='#222222', lw=1.0))

fig.savefig('out.png', dpi=100)
